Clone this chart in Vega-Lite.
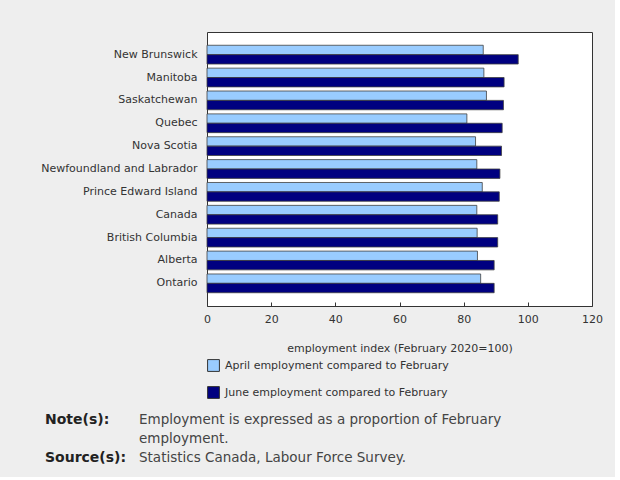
{
  "$schema": "https://vega.github.io/schema/vega-lite/v6.json",
  "background": "#eeeeee",
  "padding": {"left": 40, "top": 31, "right": 12, "bottom": 8},
  "spacing": 55,
  "config": {
    "font": "DejaVu Sans",
    "view": {"fill": "#ffffff", "stroke": "#333333", "strokeWidth": 1},
    "axis": {
      "labelFont": "DejaVu Sans", "labelFontSize": 11, "labelColor": "#333333",
      "titleFont": "DejaVu Sans", "titleFontSize": 11, "titleFontWeight": "normal", "titleColor": "#333333",
      "domainColor": "#333333", "tickColor": "#333333", "grid": false
    }
  },
  "vconcat": [
    {
      "width": 385,
      "height": 274,
      "data": {"values": [
        {"region": "New Brunswick", "series": "April employment compared to February", "value": 86.1},
        {"region": "New Brunswick", "series": "June employment compared to February", "value": 97.0},
        {"region": "Manitoba", "series": "April employment compared to February", "value": 86.3},
        {"region": "Manitoba", "series": "June employment compared to February", "value": 92.6},
        {"region": "Saskatchewan", "series": "April employment compared to February", "value": 87.1},
        {"region": "Saskatchewan", "series": "June employment compared to February", "value": 92.4},
        {"region": "Quebec", "series": "April employment compared to February", "value": 81.0},
        {"region": "Quebec", "series": "June employment compared to February", "value": 92.0},
        {"region": "Nova Scotia", "series": "April employment compared to February", "value": 83.7},
        {"region": "Nova Scotia", "series": "June employment compared to February", "value": 91.8},
        {"region": "Newfoundland and Labrador", "series": "April employment compared to February", "value": 84.1},
        {"region": "Newfoundland and Labrador", "series": "June employment compared to February", "value": 91.3},
        {"region": "Prince Edward Island", "series": "April employment compared to February", "value": 85.8},
        {"region": "Prince Edward Island", "series": "June employment compared to February", "value": 91.1},
        {"region": "Canada", "series": "April employment compared to February", "value": 84.1},
        {"region": "Canada", "series": "June employment compared to February", "value": 90.6},
        {"region": "British Columbia", "series": "April employment compared to February", "value": 84.2},
        {"region": "British Columbia", "series": "June employment compared to February", "value": 90.6},
        {"region": "Alberta", "series": "April employment compared to February", "value": 84.3},
        {"region": "Alberta", "series": "June employment compared to February", "value": 89.5},
        {"region": "Ontario", "series": "April employment compared to February", "value": 85.3},
        {"region": "Ontario", "series": "June employment compared to February", "value": 89.5}
      ]},
      "mark": {"type": "bar", "stroke": "#404040", "strokeWidth": 0.8},
      "encoding": {
        "y": {
          "field": "region", "type": "nominal", "sort": null,
          "scale": {"paddingInner": 0.18, "paddingOuter": 0.58},
          "axis": {"title": null, "ticks": false, "domain": false, "labelPadding": 10, "labelLimit": 0}
        },
        "yOffset": {"field": "series", "type": "nominal", "sort": null},
        "x": {
          "field": "value", "type": "quantitative",
          "scale": {"domain": [0, 120]},
          "axis": {"values": [0, 20, 40, 60, 80, 100, 120], "tickSize": -4, "labelPadding": 11, "labelFlush": false, "title": "employment index (February 2020=100)", "titlePadding": 18, "domain": false}
        },
        "fill": {
          "field": "series", "type": "nominal", "sort": null,
          "scale": {"domain": ["April employment compared to February", "June employment compared to February"], "range": ["#99ccff", "#000080"]},
          "legend": {
            "orient": "none", "legendX": 0, "legendY": 327, "title": null,
            "symbolType": "square", "symbolSize": 140, "symbolStrokeColor": "#333333", "symbolStrokeWidth": 1,
            "labelFont": "DejaVu Sans", "labelFontSize": 11, "labelColor": "#333333", "labelLimit": 0, "rowPadding": 10, "labelOffset": 5
          }
        }
      }
    },
    {
      "width": 385,
      "height": 58,
      "view": {"fill": "transparent", "stroke": "transparent"},
      "data": {"values": [
        {"line": 1, "label": "Note(s):", "text": "Employment is expressed as a proportion of February"},
        {"line": 2, "label": "", "text": "employment."},
        {"line": 3, "label": "Source(s):", "text": "Statistics Canada, Labour Force Survey."}
      ]},
      "encoding": {
        "y": {"field": "line", "type": "ordinal", "scale": {"type": "point"}, "axis": null}
      },
      "layer": [
        {
          "mark": {"type": "text", "align": "left", "baseline": "middle", "fontSize": 14, "fontWeight": "bold", "color": "#222222"},
          "encoding": {
            "text": {"field": "label"},
            "x": {"datum": "label", "type": "nominal", "scale": {"type": "point", "domain": ["label", "text"], "range": [-162, -68], "padding": 0}, "axis": null}
          }
        },
        {
          "mark": {"type": "text", "align": "left", "baseline": "middle", "fontSize": 13.5, "color": "#444444"},
          "encoding": {
            "text": {"field": "text"},
            "x": {"datum": "text", "type": "nominal", "axis": null}
          }
        }
      ]
    }
  ]
}
